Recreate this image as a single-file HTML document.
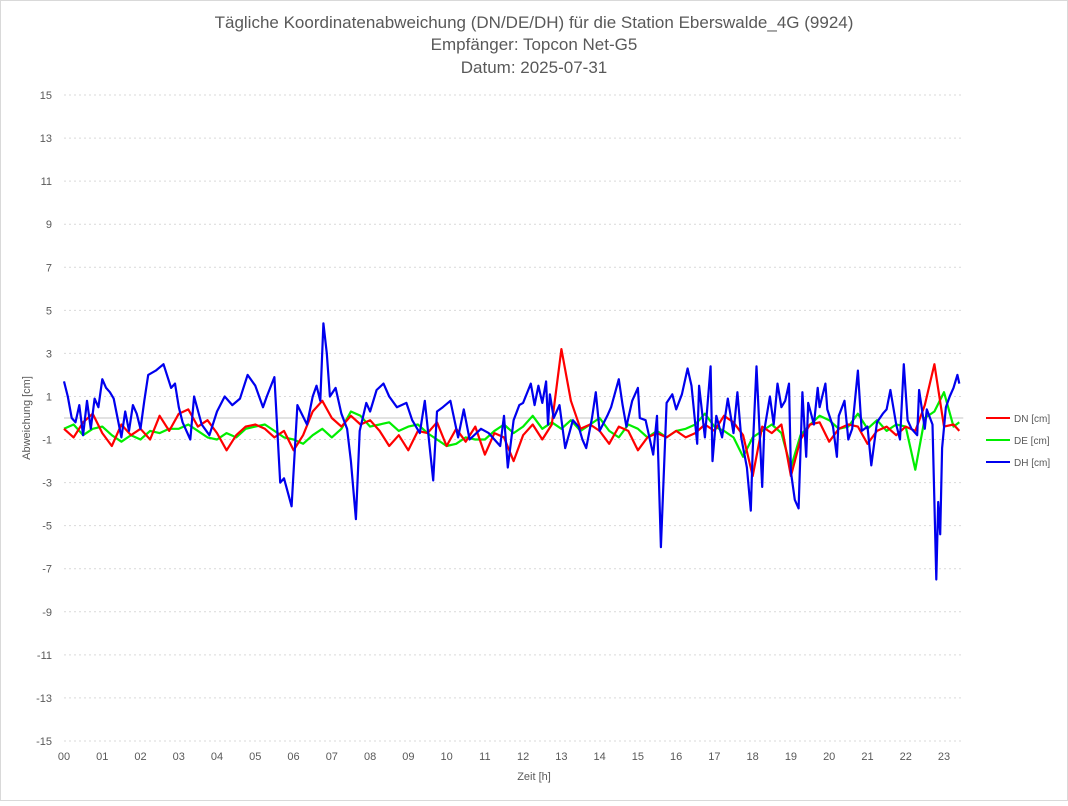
<!DOCTYPE html>
<html><head><meta charset="utf-8"><style>
body{margin:0;background:#fff;font-family:"Liberation Sans",sans-serif}
svg text{font-family:"Liberation Sans",sans-serif;fill:#595959}
</style></head><body>
<svg id="c" width="1068" height="801">
<rect x="0.5" y="0.5" width="1067" height="800" fill="#fff" stroke="#d9d9d9"/>
<text x="534" y="28" text-anchor="middle" font-size="17">Tägliche Koordinatenabweichung (DN/DE/DH) für die Station Eberswalde_4G (9924)</text>
<text x="534" y="50" text-anchor="middle" font-size="17">Empfänger: Topcon Net-G5</text>
<text x="534" y="73" text-anchor="middle" font-size="17">Datum: 2025-07-31</text>
<g id="grid"></g><g id="yt"></g><g id="xt"></g><g id="series"></g>
<text x="534" y="780" text-anchor="middle" font-size="11">Zeit [h]</text>
<text transform="translate(30,418) rotate(-90)" text-anchor="middle" font-size="11">Abweichung [cm]</text>
<g>
<line x1="986" y1="418" x2="1010" y2="418" stroke="#ff0000" stroke-width="2"/><text x="1014" y="422" font-size="10">DN [cm]</text>
<line x1="986" y1="440" x2="1010" y2="440" stroke="#00ee00" stroke-width="2"/><text x="1014" y="444" font-size="10">DE [cm]</text>
<line x1="986" y1="462" x2="1010" y2="462" stroke="#0000ee" stroke-width="2"/><text x="1014" y="466" font-size="10">DH [cm]</text>
</g>
</svg>
<script>
const yTicks=[15,13,11,9,7,5,3,1,-1,-3,-5,-7,-9,-11,-13,-15];
const xTickLabels=["00","01","02","03","04","05","06","07","08","09","10","11","12","13","14","15","16","17","18","19","20","21","22","23"];
const dhTimes=[0,0.1,0.2,0.3,0.4,0.5,0.6,0.7,0.8,0.9,1.0,1.1,1.2,1.3,1.5,1.6,1.7,1.8,1.9,2.0,2.1,2.2,2.4,2.6,2.8,2.9,3.0,3.1,3.3,3.4,3.6,3.8,4.0,4.2,4.4,4.6,4.8,5.0,5.2,5.3,5.5,5.65,5.75,5.95,6.1,6.35,6.5,6.6,6.7,6.78,6.87,6.95,7.1,7.25,7.4,7.5,7.63,7.73,7.9,8.0,8.17,8.35,8.5,8.7,8.95,9.1,9.3,9.43,9.65,9.75,9.9,10.1,10.3,10.45,10.6,10.9,11.1,11.4,11.5,11.6,11.75,11.9,12.0,12.2,12.3,12.4,12.5,12.6,12.65,12.7,12.8,12.95,13.1,13.3,13.45,13.55,13.65,13.8,13.9,14.0,14.2,14.3,14.5,14.6,14.7,14.85,15.0,15.05,15.2,15.4,15.5,15.6,15.75,15.9,16.0,16.15,16.3,16.4,16.55,16.6,16.75,16.9,16.95,17.05,17.2,17.35,17.5,17.6,17.7,17.85,17.95,18.0,18.1,18.25,18.3,18.45,18.55,18.65,18.75,18.85,18.95,19.0,19.1,19.2,19.3,19.4,19.45,19.6,19.7,19.75,19.9,19.95,20.1,20.2,20.25,20.4,20.5,20.6,20.75,20.85,21.0,21.1,21.25,21.4,21.5,21.6,21.75,21.85,21.95,22.05,22.15,22.3,22.35,22.5,22.55,22.7,22.8,22.85,22.9,22.95,23.05,23.15,23.25,23.35,23.4];
const dhValues=[1.7,1.0,0.0,-0.2,0.6,-0.8,0.8,-0.5,0.9,0.5,1.8,1.4,1.2,0.9,-0.9,0.3,-0.6,0.6,0.2,-0.5,0.8,2.0,2.2,2.5,1.4,1.6,0.5,-0.2,-1.0,1.0,-0.3,-0.8,0.3,1.0,0.6,0.9,2.0,1.5,0.5,1.0,1.9,-3.0,-2.8,-4.1,0.6,-0.3,1.0,1.5,0.8,4.4,3.0,1.0,1.4,0.2,-0.5,-2.0,-4.7,-0.6,0.7,0.3,1.3,1.6,1.0,0.5,0.7,-0.1,-0.7,0.8,-2.9,0.3,0.5,0.8,-0.9,0.4,-1.0,-0.5,-0.7,-1.3,0.1,-2.3,-0.1,0.6,0.7,1.6,0.6,1.5,0.7,1.7,-0.3,1.1,0.0,0.6,-1.4,-0.1,-0.4,-1.0,-1.4,0.0,1.2,-0.6,0.1,0.5,1.8,0.6,-0.4,0.8,1.4,0.0,-0.1,-1.7,0.1,-6.0,0.7,1.1,0.4,1.1,2.3,1.5,-1.2,1.5,-0.9,2.4,-2.0,0.1,-0.9,0.9,-0.7,1.2,-0.9,-2.3,-4.3,-1.5,2.4,-3.2,-0.6,1.0,-0.3,1.6,0.5,0.8,1.6,-2.5,-3.8,-4.2,1.2,-1.8,0.7,-0.3,1.4,0.5,1.6,0.4,-0.4,-1.8,0.1,0.8,-1.0,-0.5,2.2,-0.6,-0.4,-2.2,-0.2,0.2,0.4,1.3,-0.3,-1.0,2.5,-0.1,-0.5,-0.8,1.3,-0.5,0.4,-0.3,-7.5,-3.9,-5.4,-1.4,0.5,1.0,1.4,2.0,1.6];
const dnValues=[-0.5,-0.9,-0.2,0.2,-0.7,-1.3,-0.3,-0.8,-0.5,-1.0,0.1,-0.6,0.2,0.4,-0.4,-0.1,-0.7,-1.5,-0.8,-0.4,-0.3,-0.5,-0.9,-0.6,-1.5,-0.8,0.3,0.8,0.0,-0.4,0.1,-0.3,-0.1,-0.6,-1.3,-0.8,-1.5,-0.6,-0.7,-0.2,-1.3,-0.5,-1.1,-0.4,-1.7,-0.7,-0.9,-2.0,-0.8,-0.3,-1.0,-0.3,3.2,0.8,-0.5,-0.3,-0.6,-1.2,-0.4,-0.6,-1.5,-0.9,-0.7,-0.9,-0.6,-0.9,-0.7,-0.3,-0.6,0.1,-0.2,-0.8,-2.7,-0.4,-0.7,-0.3,-2.7,-1.0,-0.3,-0.2,-1.1,-0.5,-0.3,-0.4,-1.2,-0.6,-0.4,-0.8,-0.4,-0.6,0.6,2.5,-0.4,-0.3,-0.6];
const deValues=[-0.5,-0.3,-0.8,-0.5,-0.4,-0.8,-1.1,-0.8,-1.0,-0.6,-0.7,-0.5,-0.5,-0.3,-0.6,-0.9,-1.0,-0.7,-0.9,-0.5,-0.4,-0.3,-0.6,-0.9,-1.0,-1.2,-0.8,-0.5,-0.9,-0.5,0.3,0.1,-0.4,-0.3,-0.2,-0.6,-0.4,-0.3,-0.7,-1.0,-1.3,-1.2,-0.9,-1.0,-1.0,-0.6,-0.3,-0.7,-0.4,0.1,-0.5,-0.2,-0.5,-0.1,-0.6,-0.3,0.0,-0.6,-0.9,-0.3,-0.5,-0.9,-0.6,-0.9,-0.6,-0.5,-0.3,0.2,-0.4,-0.6,-0.9,-1.8,-0.9,-0.6,-0.3,-0.7,-2.3,-0.8,-0.3,0.1,-0.1,-0.5,-0.4,0.2,-0.5,-0.1,-0.6,-0.3,-0.4,-2.4,0.0,0.3,1.2,-0.4,-0.2];
const X=h=>64+h*38.26, Y=v=>418-v*21.53;
const NS="http://www.w3.org/2000/svg";
function mk(t,a,p){const e=document.createElementNS(NS,t);for(const k in a)e.setAttribute(k,a[k]);p.appendChild(e);return e;}
const grid=document.getElementById('grid'),yt=document.getElementById('yt'),xt=document.getElementById('xt'),ser=document.getElementById('series');
yTicks.forEach(v=>{
 const l=mk('line',{x1:X(0),x2:X(23.4)+4,y1:Y(v),y2:Y(v),stroke:'#d9d9d9','stroke-dasharray':'2,3'},grid);
 
 
 const t=mk('text',{x:52,y:Y(v)+4,'text-anchor':'end','font-size':11},yt);t.textContent=v;
 
 
});
const z=mk('line',{x1:X(0),x2:X(23.4)+4,y1:Y(0),y2:Y(0),stroke:'#d0d0d0','stroke-width':1.2},grid);


xTickLabels.forEach((s,i)=>{
 const t=mk('text',{x:X(i),y:760,'text-anchor':'middle','font-size':11},xt);t.textContent=s;
 
 
});
function line(ts,vs,col,name){
 const d=vs.map((v,i)=>(i?'L':'M')+X(ts[i]).toFixed(1)+','+Y(v).toFixed(1)).join('');
 const p=mk('path',{d:d,fill:'none',stroke:col,'stroke-width':2.2,'stroke-linejoin':'round'},ser);
 
 
}
const qTimes=dnValues.map((_,i)=>i<94?i*0.25:23.4);
const qTimesE=deValues.map((_,i)=>i<94?i*0.25:23.4);
line(qTimesE,deValues,'#00ee00','series-de');
line(qTimes,dnValues,'#ff0000','series-dn');
line(dhTimes,dhValues,'#0000ee','series-dh');
</script>
</body></html>
